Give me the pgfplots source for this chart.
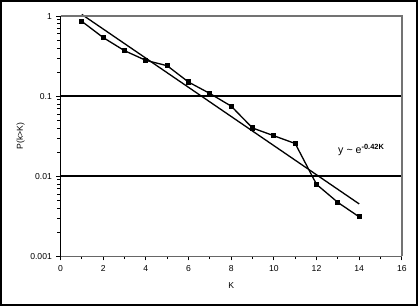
\documentclass[border=0pt]{standalone}
\usepackage{pgfplots}
\pgfplotsset{compat=1.18}
\usepackage{fontspec}
\setmainfont{Liberation Sans}
\begin{document}
\begin{tikzpicture}
\begin{axis}[
  scale only axis,
  width=337pt, height=237pt,
  ymode=log,
  xmin=0, xmax=16, ymin=0.001, ymax=1,
  axis lines*=left,
  x axis line style={draw=black!60, line width=1.2pt},
  y axis line style={draw=black, line width=1.2pt},
  xtick={0,2,...,16},
  minor x tick num=1,
  ytick={0.001,0.01,0.1,1},
  yticklabels={0.001,0.01,0.1,1},
  minor ytick={0.002,0.003,0.004,0.005,0.006,0.007,0.008,0.009,
               0.02,0.03,0.04,0.05,0.06,0.07,0.08,0.09,
               0.2,0.3,0.4,0.5,0.6,0.7,0.8,0.9},
  tick align=outside,
  major tick length=4pt, minor tick length=3pt,
  tick style={black, line width=0.8pt},
  ymajorgrids, grid style={black, line width=1.4pt},
  /pgf/number format/assume math mode=true,
  tick label style={font=\fontsize{8.5}{10}\selectfont},
  xticklabel style={yshift=-2pt},
  yticklabel style={xshift=-1pt},
  every axis y label/.style={at={(axis description cs:-0.117,0.5)},rotate=90,anchor=center,font=\fontsize{8.5}{10}\selectfont},
  every axis x label/.style={at={(axis description cs:0.5,-0.123)},anchor=center,font=\fontsize{8.5}{10}\selectfont},
  xlabel={K}, ylabel={P(k>K)},
  clip=false,
]
\addplot[black, line width=1.3pt, mark=square*, mark size=1.9pt] coordinates {
(1,0.86) (2,0.54) (3,0.37) (4,0.28) (5,0.24) (6,0.15) (7,0.108) (8,0.075)
(9,0.040) (10,0.032) (11,0.0256) (12,0.0079) (13,0.0047) (14,0.0031)
};
\addplot[black, line width=1.3pt] coordinates {(1,1.05) (14,0.0045)};
\draw[black!55, line width=1.3pt] (rel axis cs:0,1) -- (rel axis cs:1,1) -- (rel axis cs:1,0);
\node[anchor=center, font=\fontsize{10.5}{12}\selectfont] at (axis cs:14.1,0.021) {y \textasciitilde{} e\textsuperscript{\textbf{-0.42K}}};
\draw[black, line width=1.5pt] (rel axis cs:-0.175,-0.203) rectangle (rel axis cs:1.045,1.064);
\end{axis}
\end{tikzpicture}
\end{document}
